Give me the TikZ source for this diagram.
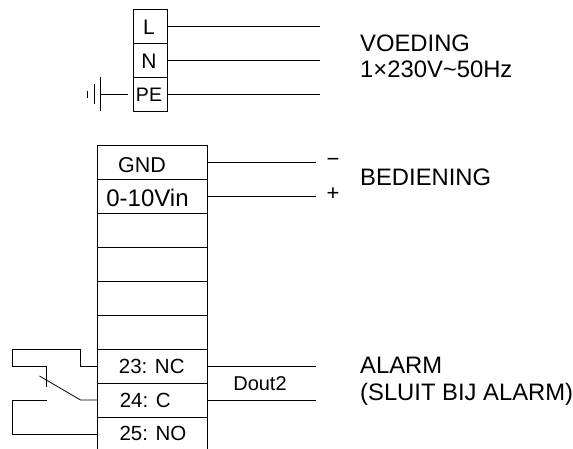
\documentclass[tikz,border=0pt]{standalone}
\usepackage{fontspec}
\setmainfont{Liberation Sans}
\newcommand{\pad}[1]{\rule{#1}{0pt}}
\newcommand{\tall}[1]{\rule{0pt}{#1}}
\tikzset{
    wire/.style={line width=.8pt},
    termbox/.style={draw, wire, inner sep=0pt, minimum height=34pt},
    smallbox/.style={termbox, minimum width=34pt, font=\fontsize{21}{24}\selectfont},
    widebox/.style={termbox, minimum width=110pt, font=\fontsize{20.5}{24}\selectfont},
    openbox/.style={inner sep=0pt, minimum width=110pt, minimum height=32pt, font=\fontsize{20.5}{24}\selectfont},
    tag/.style={inner sep=0pt, font=\fontsize{22}{24}\selectfont},
    heading/.style={inner sep=0pt, align=left, anchor=west, font=\fontsize{23.8}{26.5}\selectfont}
}
\begin{document}
\begin{tikzpicture}[x=1pt, y=-1pt]
                \useasboundingbox (0, 0) rectangle (573, 449);

                \node[smallbox] (l) at (150, 26.5) {\tall{17pt}L\pad{2pt}};
                \node[smallbox] (n) at (150, 60.5) {\tall{17pt}N\pad{2pt}};
                \node[smallbox] (pe) at (150, 94.5) {\fontsize{19.5}{22}\selectfont PE\pad{2pt}};
                \coordinate (lend) at (320, 26.5);
                \coordinate (nend) at (320, 60.5);
                \coordinate (peend) at (320, 94.5);
                \coordinate (earth) at (100.5, 94.5);
                \draw[wire] (l) -- (lend);
                \draw[wire] (n) -- (nend);
                \draw[wire] (pe) -- (peend);
                \draw[wire] ([xshift=-4.5pt]pe.west) -- (earth);
                \draw[wire] ([yshift=-17pt]earth) -- ([yshift=17pt]earth);
                \draw[wire] ([xshift=-6.5pt, yshift=-10pt]earth) -- ([xshift=-6.5pt, yshift=10pt]earth);
                \draw[wire] ([xshift=-13.5pt, yshift=-3.5pt]earth) -- ([xshift=-13.5pt, yshift=3.5pt]earth);
                \node[heading] (voeding) at (360, 56.5) {VOEDING\\1×230V\char"007E 50Hz};

                \node[widebox] (gnd) at (152.5, 162) {\fontsize{21.5}{24}\selectfont\tall{20.5pt}GND\pad{21pt}};
                \node[widebox] (vin) at (152.5, 196) {\fontsize{24}{26}\selectfont\tall{21pt}0-10Vin\pad{10pt}};
                \foreach \i/\y in {1/230, 2/264, 3/298, 4/332}
                    \node[widebox] (blank\i) at (152.5, \y) {};
                \node[widebox] (nc) at (152.5, 366) {23: NC\pad{1.5pt}};
                \node[widebox] (com) at (152.5, 400) {24: C\pad{14.5pt}};
                \node[openbox] (no) at (152.5, 433) {\pad{1pt}25: NO};
                \draw[wire] (no.north west) -- (no.south west);
                \draw[wire] (no.north east) -- (no.south east);

                \coordinate (gndend) at (316, 162);
                \coordinate (vinend) at (316, 196);
                \draw[wire] (gnd) -- (gndend);
                \draw[wire] (vin) -- (vinend);
                \node[tag] (minus) at (333, 162.5) {−};
                \node[tag] (plus) at (333, 194) {+};
                \node[heading] (bediening) at (360, 177) {BEDIENING};

                \coordinate (ncend) at (316, 366);
                \coordinate (comend) at (316, 400);
                \draw[wire] (nc) -- (ncend);
                \draw[wire] (com) -- (comend);
                \node[tag, font=\fontsize{20}{24}\selectfont] (dout) at (260, 384) {Dout2};
                \node[heading] (alarm) at (360, 381.5) {ALARM\\(SLUIT BIJ ALARM)};

                \coordinate (hinge) at (80.5, 400);
                \coordinate (bladetip) at (39.5, 376);
                \coordinate (nostub) at (46.5, 400);
                \draw[wire] (nc.west) -- (80.5, 366) -- (80.5, 349.5) -- (12.5, 349.5) -- (12.5, 366) -- (46.5, 366) -- (46.5, 386.5);
                \draw[wire] (com.west) -- (hinge) -- (bladetip);
                \draw[wire] (nostub) -- (12.5, 400) -- (12.5, 434.5) -- (no.west |- 0, 434.5);
            \end{tikzpicture}
\end{document}
